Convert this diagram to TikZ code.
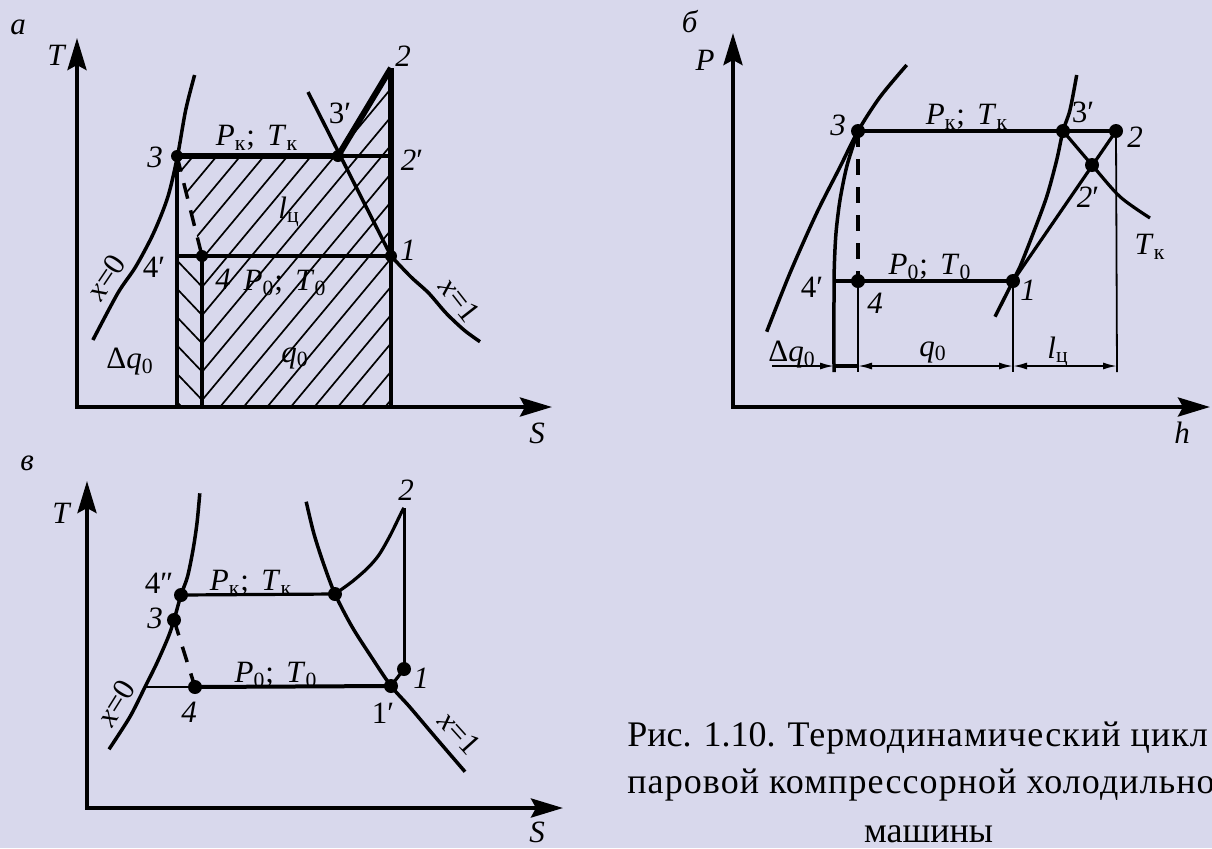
\documentclass[tikz,border=0pt]{standalone}
\usepackage{fontspec}
\setmainfont{Liberation Serif}
\usetikzlibrary{arrows.meta}
\definecolor{bgcol}{RGB}{216,216,236}
\newcommand{\myPk}{\textit{P}\textsubscript{к};\hspace{0.4em}\textit{T}\textsubscript{к}}
\newcommand{\myPz}{\textit{P}\textsubscript{0};\hspace{0.4em}\textit{T}\textsubscript{0}}
\newcommand{\wide}{\addfontfeatures{LetterSpace=3}}
\begin{document}
\begin{tikzpicture}[x=0.5pt,y=-0.5pt,
  lab/.style={font=\fontsize{15.5}{17}\selectfont, inner sep=0pt},
  capt/.style={font=\fontsize{18}{22}\selectfont, inner sep=0pt},
  axisline/.style={line width=2pt, {Stealth[length=16pt,width=9.5pt,inset=2.5pt]}-{Stealth[length=16pt,width=9.5pt,inset=2.5pt]}},
  curveline/.style={line width=1.75pt},
  boldline/.style={line width=2.6pt},
  midline/.style={line width=1.6pt},
  thinline/.style={line width=0.9pt},
  hatchline/.style={line width=0.85pt},
  dashline/.style={line width=1.75pt, dash pattern=on 8pt off 6pt},
  dimline/.style={line width=0.9pt},
  dimarrows/.style={dimline, {Latex[length=7pt,width=3.5pt]}-{Latex[length=7pt,width=3.5pt]}},
  dotmark/.style={circle, fill=black, inner sep=0pt, minimum size=6pt},
]
\path[use as bounding box, fill=bgcol] (0,0) rectangle (1212,848);

%================ panel a =================
\coordinate (aO) at (77,407);
\coordinate (aT) at (77,38);
\coordinate (aS) at (552,407);
\coordinate (a3) at (177,156);
\coordinate (a3p) at (338,156);
\coordinate (a2) at (391,68);
\coordinate (a2p) at (391,156);
\coordinate (a1) at (391,256);
\coordinate (a4p) at (177,256);
\coordinate (a4) at (202,256);
\coordinate (aB3) at (177,407);
\coordinate (aB4) at (202,407);
\coordinate (aB1) at (391,407);

% hatching
\begin{scope}
  \clip (a3) -- (a3p) -- (a2) -- (aB1) -- (aB4) -- (a4) -- cycle;
  \foreach \k in {-7,...,14} {
    \pgfmathsetmacro\cc{529.5+28.3*\k}
    \draw[hatchline] (150,{\cc-180}) -- (420,{\cc-504});
  }
\end{scope}
\begin{scope}
  \clip (a4p) rectangle (aB4);
  \foreach \k in {-2,...,5} {
    \pgfmathsetmacro\dd{74.6+28.3*\k}
    \draw[hatchline] (170,{178.5+\dd}) -- (210,{220.5+\dd});
  }
\end{scope}

\draw[axisline] (aT) -- (aO) -- (aS);
% saturation curves
\draw[curveline] plot[smooth] coordinates {(194.6,75) (185.7,110) (177.5,156) (167.9,196.7) (153.6,233) (135.7,266.7) (117.9,293) (92.9,340)};
\draw[curveline] (308,92) -- (a1);
\draw[curveline] plot[smooth] coordinates {(a1) (410.7,276.7) (428.6,293) (446,313) (464,330) (480,341.7)};
% cycle
\draw[boldline] (a3) -- (a3p);
\draw[line width=3pt] (a3p) -- (a2);
\draw[boldline] (a2) -- (a1);
\draw[midline] (a3p) -- (a2p);
\draw[midline] (a4p) -- (a1);
\draw[midline] (a3) -- (aB3);
\draw[midline] (a4) -- (aB4);
\draw[midline] (a1) -- (aB1);
\draw[dashline] (a3) -- (a4);
\node[dotmark] (da3) at (a3) {};
\node[dotmark] (da3p) at (a3p) {};
\node[dotmark] (da1) at (a1) {};
\node[dotmark] (da4) at (a4) {};

\node[lab] (la) at (18,27) {\textit{а}};
\node[lab] (lT) at (57,55) {\textit{T}};
\node[lab] (lS) at (537,433) {\textit{S}};
\node[lab] (l3) at (155,157) {\textit{3}};
\node[lab] (lPk) at (257,138) {\myPk};
\node[lab] (l3p) at (340,113) {3′};
\node[lab] (l2) at (403,56) {\textit{2}};
\node[lab] (l2p) at (412,160) {\textit{2}′};
\node[lab] (l1) at (408,250) {\textit{1}};
\node[lab] (llc) at (289,212) {\textit{l}\textsubscript{ц}};
\node[lab] (l4p) at (154,267) {4′};
\node[lab] (l4) at (223,279) {\textit{4}};
\node[lab] (lP0) at (285,283) {\myPz};
\node[lab] (lq0) at (295,358) {\textit{q}\textsubscript{0}};
\node[lab] (ldq) at (130,362) {Δ\textit{q}\textsubscript{0}};
\node[lab, rotate=56] (lx0) at (106,277) {\textit{x}=0};
\node[lab, rotate=-52] (lx1) at (460,300) {\textit{x}=1};

%================ panel b =================
\coordinate (bO) at (733,407);
\coordinate (bP) at (733,33);
\coordinate (bH) at (1210,407);
\coordinate (b3) at (858,131);
\coordinate (b3p) at (1063,131);
\coordinate (b2) at (1116,131);
\coordinate (b2p) at (1092,165);
\coordinate (b1) at (1013,281);
\coordinate (b4) at (858,281);
\coordinate (b4p) at (834,281);
\coordinate (bd0) at (772,366);
\coordinate (bd1) at (834,366);
\coordinate (bd2) at (858,366);
\coordinate (bd3) at (1013,366);
\coordinate (bd4) at (1117,366);
\coordinate (be2) at (858,372);
\coordinate (be3) at (1013,372);
\coordinate (be4) at (1117,372);

\draw[axisline] (bP) -- (bO) -- (bH);
\draw[curveline] plot[smooth] coordinates {(766.7,331.7) (790,273) (816.7,213) (840,167) (b3) (880,97) (906.7,65)};
\draw[curveline] plot[smooth] coordinates {(b3) (855,140) (846.7,166.7) (840,200) (836,233) (834.3,267) (834,300) (834,372)};
\draw[curveline] plot[smooth] coordinates {(1076.7,75) (1070,110) (b3p) (1056.7,160) (1046.7,196.7) (1033.3,233) (1020,266.7) (b1) (995,316.7)};
\draw[midline] plot[smooth] coordinates {(b3p) (b2p) (1120,196.7) (1150,218)};
\draw[midline] (b3) -- (b2);
\draw[midline] (b4p) -- (b1);
\draw[midline] (b1) -- (b2);
\draw[dashline] (b3) -- (b4);
\draw[thinline] (b4) -- (be2);
\draw[thinline] (b1) -- (be3);
\draw[thinline] (b2) -- (be4);
\draw[dimline, -{Latex[length=7pt,width=3.5pt]}] (bd0) -- (bd1);
\draw[line width=1.6pt] (bd1) -- (bd2);
\draw[dimarrows] (bd2) -- (bd3);
\draw[dimarrows] (bd3) -- (bd4);
\node[dotmark, minimum size=7pt] (db3) at (b3) {};
\node[dotmark, minimum size=7pt] (db3p) at (b3p) {};
\node[dotmark, minimum size=7pt] (db2) at (b2) {};
\node[dotmark, minimum size=7pt] (db2p) at (b2p) {};
\node[dotmark, minimum size=7pt] (db1) at (b1) {};
\node[dotmark, minimum size=7pt] (db4) at (b4) {};

\node[lab] (lb) at (690,22) {\textit{б}};
\node[lab] (lP) at (705,60) {\textit{P}};
\node[lab] (lh) at (1182,433) {\textit{h}};
\node[lab] (lb3) at (838,125) {\textit{3}};
\node[lab] (lbPk) at (967,117) {\myPk};
\node[lab] (lb3p) at (1083,112) {3′};
\node[lab] (lb2) at (1135,137) {\textit{2}};
\node[lab] (lb2p) at (1088,197) {\textit{2}′};
\node[lab] (lbTk) at (1150,247) {\textit{T}\textsubscript{к}};
\node[lab] (lbP0) at (930,267) {\myPz};
\node[lab] (lb4p) at (812,287) {4′};
\node[lab] (lb4) at (875,303) {\textit{4}};
\node[lab] (lb1) at (1028,290) {\textit{1}};
\node[lab] (lbdq) at (792,355) {Δ\textit{q}\textsubscript{0}};
\node[lab] (lbq0) at (933,352) {\textit{q}\textsubscript{0}};
\node[lab] (lblc) at (1058,352) {\textit{l}\textsubscript{ц}};

%================ panel v =================
\coordinate (cO) at (87,808);
\coordinate (cT) at (87,481);
\coordinate (cS) at (563,808);
\coordinate (c4pp) at (181,595);
\coordinate (c3) at (174,620);
\coordinate (c4) at (195,687);
\coordinate (c1p) at (391,686);
\coordinate (c1) at (404,669);
\coordinate (cK) at (335,594);
\coordinate (c2) at (404,508);
\coordinate (cL) at (145,687);

\draw[axisline] (cT) -- (cO) -- (cS);
\draw[curveline] plot[smooth] coordinates {(199.8,493.3) (197,523) (193,550) (187.5,576.7) (c4pp) (c3) (168.4,636.7) (156.9,663) (cL) (130,716.7) (109,749.3)};
\draw[curveline] plot[smooth] coordinates {(306.2,501.7) (313.8,533.3) (323.4,563.3) (cK) (352,626.7) (371.2,656.7) (c1p) (409.5,706.7) (436.3,738.3) (465,771.7)};
\draw[midline] plot[smooth] coordinates {(cK) (352,581.7) (367.4,568.3) (378.9,555) (390.4,535) (401.8,511.7) (c2)};
\draw[midline] (c4pp) -- (cK);
\draw[line width=2pt] (c4) -- (c1p);
\draw[thinline] (cL) -- (c4);
\draw[line width=1.5pt] (c2) -- (c1);
\draw[midline] (c1p) -- (c1);
\draw[dashline] (c3) -- (c4);
\node[dotmark, minimum size=7pt] (dc4pp) at (c4pp) {};
\node[dotmark, minimum size=7pt] (dc3) at (c3) {};
\node[dotmark, minimum size=7pt] (dc4) at (c4) {};
\node[dotmark, minimum size=7pt] (dc1p) at (c1p) {};
\node[dotmark, minimum size=7pt] (dc1) at (c1) {};
\node[dotmark, minimum size=7pt] (dcK) at (cK) {};

\node[lab] (lv) at (27,463) {\textit{в}};
\node[lab] (lvT) at (62,513) {\textit{T}};
\node[lab] (lvS) at (537,832) {\textit{S}};
\node[lab] (lv2) at (406,490) {\textit{2}};
\node[lab] (lv4pp) at (159,583) {4″};
\node[lab] (lvPk) at (251,583) {\myPk};
\node[lab] (lv3) at (155,618) {\textit{3}};
\node[lab] (lvP0) at (276,675) {\myPz};
\node[lab] (lv4) at (189,712) {\textit{4}};
\node[lab] (lv1p) at (383,713) {1′};
\node[lab] (lv1) at (421,678) {\textit{1}};
\node[lab, rotate=58] (lvx0) at (116,703) {\textit{x}=0};
\node[lab, rotate=-48] (lvx1) at (460,733) {\textit{x}=1};

%================ caption =================
\node[capt, anchor=base west] (cap1) at (627,746) {Рис. 1.10. {\wide Термодинамический цикл}};
\node[capt, anchor=base west] (cap2) at (627,793) {{\wide паровой компрессорной холодильной}};
\node[capt, anchor=base] (cap3) at (928.5,842) {машины};
\end{tikzpicture}
\end{document}
